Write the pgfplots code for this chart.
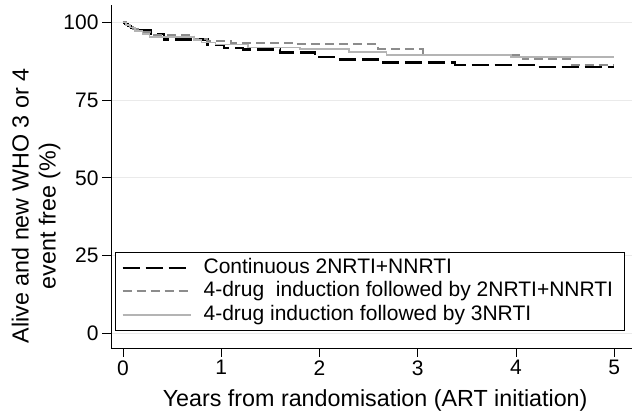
\documentclass[border=0pt]{standalone}
\usepackage{pgfplots}
\pgfplotsset{compat=1.18}
\usepackage{fontspec}
\setmainfont{Liberation Sans}
\definecolor{kmdash}{HTML}{8C8C8C}
\definecolor{kmsolid}{HTML}{B4B4B4}
\definecolor{gridc}{HTML}{EAEAEA}
\begin{document}
\begin{tikzpicture}
\useasboundingbox (0,0) rectangle (633pt,414pt);
\begin{axis}[
  at={(111pt,66pt)}, anchor=south west,
  scale only axis, width=521pt, height=343pt,
  xmin=-0.122, xmax=5.18, ymin=-4.7, ymax=105.6,
  axis x line*=bottom, axis y line*=left,
  axis line style={line width=0.8pt},
  xtick={0,1,2,3,4,5}, ytick={0,25,50,75,100},
  tick align=outside, major tick length=9pt,
  tick style={black, line width=0.8pt},
  ymajorgrids, grid style={color=gridc, line width=1pt},
  /pgf/number format/assume math mode=true,
  ticklabel style={font=\fontsize{21}{25}\selectfont},
  label style={font=\fontsize{23.3}{27}\selectfont},
  xlabel={Years from randomisation (ART initiation)},
  ylabel={Alive and new WHO 3 or 4\\event free (\%)\hspace*{20pt}},
  xlabel style={at={(axis description cs:0.507,-0.172)}, anchor=base},
  ylabel style={at={(axis description cs:-0.144,0.414)}, anchor=center, align=center},
  legend cell align=left,
  legend image code/.code={\draw[#1] (0pt,0pt) -- (68pt,0pt);},
  legend style={at={(axis description cs:0.0077,0.0496)}, anchor=south west,
    draw=black, line width=0.8pt, inner xsep=6pt, inner ysep=4pt,
    font=\fontsize{21}{23}\selectfont, row sep=0pt,
    /tikz/every odd column/.style={column sep=10pt},
    nodes={text height=15pt, text depth=4.5pt, inner ysep=2pt}},
]
% Continuous 2NRTI+NNRTI
\addplot[const plot, black, line width=2.2pt, dash pattern=on 17pt off 6pt] coordinates {
 (0,100) (0.02,99.4) (0.05,98.8) (0.08,98.2) (0.12,97.5) (0.28,96.2) (0.42,94.5)
 (0.86,92.7) (1.03,91.8) (1.22,91.3) (1.6,90.3) (1.95,88.9) (2.18,88.1)
 (2.65,87.1) (3.38,86.4) (4.18,85.7) (5.0,85.7)};
% 4-drug induction then 2NRTI+NNRTI
\addplot[const plot, kmdash, line width=2pt, dash pattern=on 9pt off 5pt] coordinates {
 (0,100) (0.03,99.2) (0.06,98.5) (0.1,97.8) (0.15,97.0) (0.3,96.1) (0.72,94.6)
 (0.85,94.0) (1.1,93.3) (1.75,92.9) (2.6,91.6) (3.05,89.6) (4.07,88.1)
 (4.55,86.4) (5.0,86.4)};
% 4-drug induction then 3NRTI
\addplot[const plot, kmsolid, line width=1.6pt] coordinates {
 (0,100) (0.03,99.2) (0.07,98.3) (0.12,97.3) (0.2,96.3) (0.27,95.4) (0.72,94.3)
 (0.8,93.6) (0.94,92.9) (1.27,91.9) (1.8,91.4) (2.3,90.4) (2.68,89.6)
 (3.95,88.8) (5.0,88.8)};
\legend{\makebox[413pt][l]{Continuous 2NRTI+NNRTI},
  \makebox[413pt][l]{4-drug\ \ induction followed by 2NRTI+NNRTI},
  \makebox[413pt][l]{4-drug induction followed by 3NRTI}}
\end{axis}
\end{tikzpicture}
\end{document}
